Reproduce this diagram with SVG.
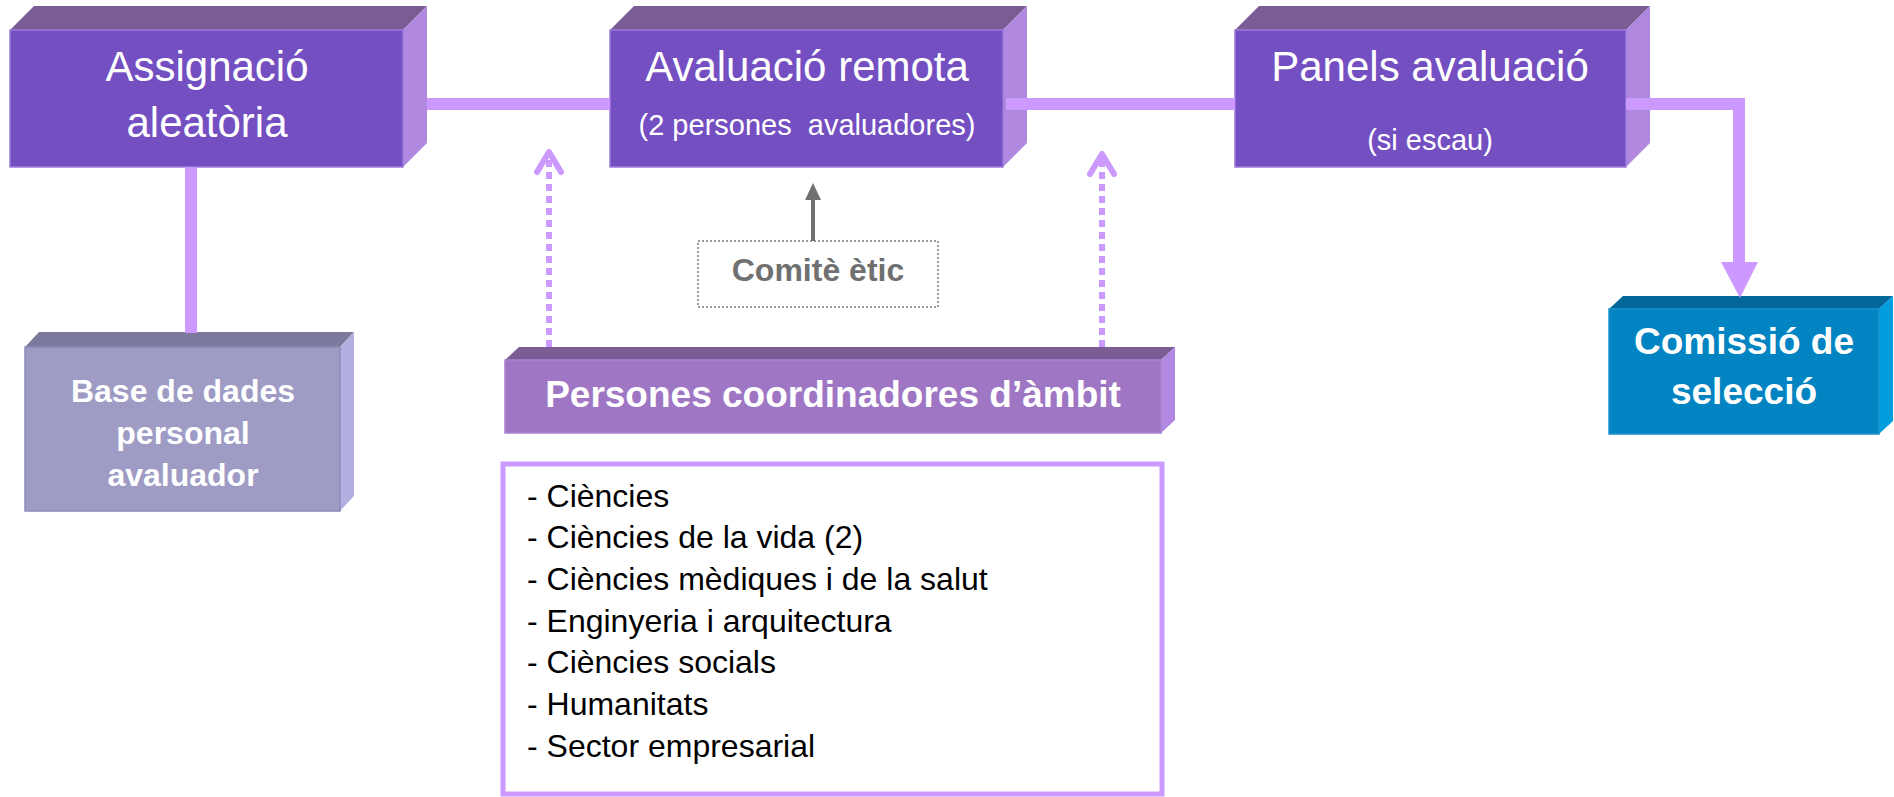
<svg xmlns="http://www.w3.org/2000/svg" width="1894" height="797" viewBox="0 0 1894 797">
<style>
text{font-family:"Liberation Sans",Arial,sans-serif;text-anchor:middle;fill:#fff}
.big{font-size:42px}
.sub{font-size:29px;white-space:pre}
.bold{font-weight:bold}
.pf{fill:#744FC1;stroke:#9A7BDA;stroke-width:1.5}
.pt{fill:#7B5C95}
.ps{fill:#B088E0}
.conn{fill:none;stroke:#CC99FF;stroke-width:12}
.dot{fill:none;stroke:#CC99FF;stroke-width:6;stroke-dasharray:7 5}
.chev{fill:none;stroke:#CC99FF;stroke-width:6;stroke-linecap:round;stroke-linejoin:round}
.list{fill:#000;font-size:32px;text-anchor:start}
</style>
<rect width="1894" height="797" fill="#fff"/>
<g id="assignacio">
<polygon class="pt" points="10,30 34,6 427,6 403,30"/>
<polygon class="ps" points="403,30 427,6 427,143 403,167"/>
<rect class="pf" x="10" y="30" width="393" height="137"/>
<text class="big" x="207" y="81">Assignació</text>
<text class="big" x="207" y="137">aleatòria</text>
</g>
<g id="avaluacio">
<polygon class="pt" points="610,30 634,6 1027,6 1003,30"/>
<polygon class="ps" points="1003,30 1027,6 1027,143 1003,167"/>
<rect class="pf" x="610" y="30" width="393" height="137"/>
<text class="big" x="807" y="81">Avaluació remota</text>
<text class="sub" x="807" y="135">(2 persones  avaluadores)</text>
</g>
<g id="panels">
<polygon class="pt" points="1235,30 1259,6 1650,6 1626,30"/>
<polygon class="ps" points="1626,30 1650,6 1650,143 1626,167"/>
<rect class="pf" x="1235" y="30" width="391" height="137"/>
<text class="big" x="1430" y="81">Panels avaluació</text>
<text class="sub" x="1430" y="150">(si escau)</text>
</g>
<g id="basedades">
<polygon fill="#7C7A9C" points="25,347 39,332 354,332 340,347"/>
<polygon fill="#B2B0E0" points="340,347 354,332 354,496 340,511"/>
<rect x="25" y="347" width="315" height="164" fill="#9E9CC5" stroke="#8C8AB8" stroke-width="1.5"/>
<text class="bold" x="183" y="402" font-size="32">Base de dades</text>
<text class="bold" x="183" y="444" font-size="32">personal</text>
<text class="bold" x="183" y="486" font-size="32">avaluador</text>
</g>
<g id="comissio">
<polygon fill="#03679A" points="1609,309 1623,296 1893,296 1879,309"/>
<polygon fill="#009EDF" points="1879,309 1893,296 1893,421 1879,434"/>
<rect x="1609" y="309" width="270" height="125" fill="#0284C2" stroke="#1A93CC" stroke-width="1.5"/>
<text class="bold" x="1744" y="354" font-size="37">Comissió de</text>
<text class="bold" x="1744" y="404" font-size="37">selecció</text>
</g>
<g id="persones">
<polygon fill="#7B5C95" points="505,360 519,347 1175,347 1161,360"/>
<polygon fill="#B388E2" points="1161,360 1175,347 1175,420 1161,433"/>
<rect x="505" y="360" width="656" height="73" fill="#9E76C4" stroke="#A883D0" stroke-width="1.5"/>
<text class="bold" x="833" y="407" font-size="37">Persones coordinadores d’àmbit</text>
</g>
<g id="comite">
<rect x="698" y="241" width="240" height="66" fill="#fff" stroke="#7a7a7a" stroke-width="1.5" stroke-dasharray="2 2"/>
<text class="bold" x="818" y="281" font-size="32" style="fill:#707070">Comitè ètic</text>
</g>
<g id="ambits">
<rect x="503" y="464" width="659" height="330" fill="#fff" stroke="#CC99FF" stroke-width="5"/>
<text class="list" x="527" y="507">- Ciències</text>
<text class="list" x="527" y="548">- Ciències de la vida (2)</text>
<text class="list" x="527" y="590">- Ciències mèdiques i de la salut</text>
<text class="list" x="527" y="632">- Enginyeria i arquitectura</text>
<text class="list" x="527" y="673">- Ciències socials</text>
<text class="list" x="527" y="715">- Humanitats</text>
<text class="list" x="527" y="757">- Sector empresarial</text>
</g>
<g id="connectors">
<line class="conn" x1="427" y1="104" x2="610" y2="104"/>
<line class="conn" x1="1006" y1="104" x2="1235" y2="104"/>
<polyline class="conn" points="1626,104 1739,104 1739,264" stroke-linejoin="miter"/>
<polygon fill="#CC99FF" points="1721,262 1758,262 1740,298"/>
<line class="conn" x1="191" y1="167" x2="191" y2="333"/>
<line class="dot" x1="549" y1="347" x2="549" y2="158"/>
<polyline class="chev" points="537,172 549,152 561,172"/>
<line class="dot" x1="1102" y1="347" x2="1102" y2="160"/>
<polyline class="chev" points="1090,174 1102,154 1114,174"/>
<line x1="813" y1="241" x2="813" y2="198" stroke="#707070" stroke-width="4"/>
<polygon fill="#707070" points="805,200 821,200 813,183"/>
</g>
</svg>
